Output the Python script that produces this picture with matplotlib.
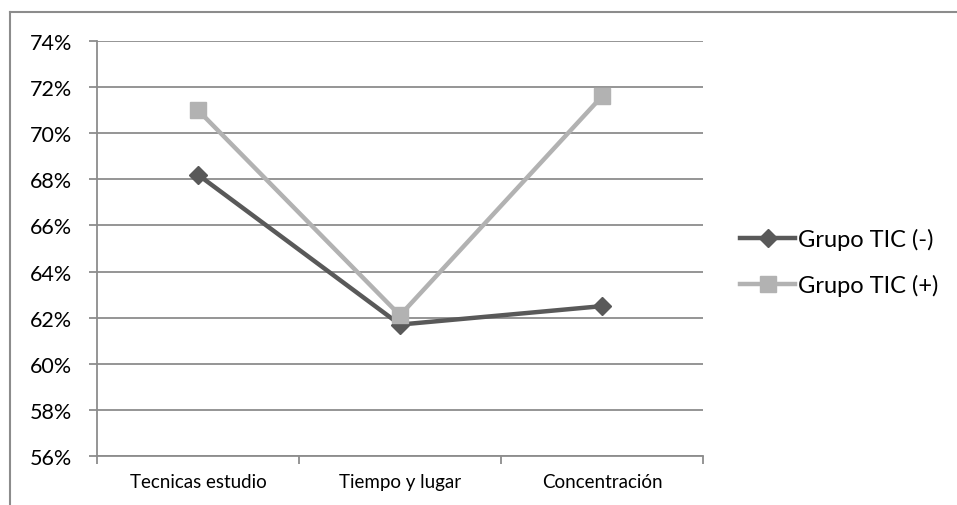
import numpy as np
import matplotlib
matplotlib.use("Agg")
from matplotlib import pyplot as plt
from matplotlib.lines import Line2D
from matplotlib.ticker import FuncFormatter

categories = ["Tecnicas estudio", "Tiempo y lugar", "Concentración"]
grupo_menos = [68.2, 61.7, 62.5]
grupo_mas = [71.0, 62.1, 71.6]
y_ticks = [56, 58, 60, 62, 64, 66, 68, 70, 72, 74]

plt.rcParams['font.family'] = ['Lato', 'DejaVu Sans']

fig = plt.figure(figsize=(9.57, 5.06), dpi=100)
ax = fig.add_axes([97 / 957, 1 - 457 / 506, (703 - 97) / 957, (457 - 42) / 506])

grid_col = '#8c8c8c'
x = np.arange(len(categories))
ax.plot(x, grupo_menos, color='#595959', lw=3.2, marker='D', ms=9,
        label='Grupo TIC (-)', zorder=3)
ax.plot(x, grupo_mas, color='#b2b2b2', lw=3.2, marker='s', ms=12,
        label='Grupo TIC (+)', zorder=3)

ax.set_xlim(-0.5, 2.5)
ax.set_ylim(56, 74)
ax.set_yticks(y_ticks)
ax.yaxis.set_major_formatter(FuncFormatter(lambda v, p: f'{v:.0f}%'))
ax.grid(axis='y', color=grid_col, lw=1.3)
ax.set_axisbelow(True)

ax.set_xticks(x)
ax.set_xticklabels(categories, fontsize=13.5)
ax.set_xticks([-0.5, 0.5, 1.5, 2.5], minor=True)
ax.tick_params(axis='x', which='major', length=0, pad=12)
ax.tick_params(axis='x', which='minor', length=6, width=1.3, color=grid_col)
ax.tick_params(axis='y', length=6, width=1.3, color=grid_col, labelsize=15.5, pad=12)

for s in ['top', 'right']:
    ax.spines[s].set_visible(False)
for s in ['left', 'bottom']:
    ax.spines[s].set_color(grid_col)
    ax.spines[s].set_linewidth(1.3)

ax.legend(loc='center left', bbox_to_anchor=(1.061, 0.467), frameon=False,
          fontsize=17, handlelength=2.35, handletextpad=0.1, labelspacing=1.0,
          borderpad=0, borderaxespad=0)

# outer chart border (cropped at right and bottom)
fig.add_artist(Line2D([10 / 957, 10 / 957], [0, 1 - 13 / 506],
                      transform=fig.transFigure, color=grid_col, lw=1.5))
fig.add_artist(Line2D([10 / 957, 1], [1 - 13 / 506, 1 - 13 / 506],
                      transform=fig.transFigure, color=grid_col, lw=1.5))

fig.savefig('out.png', dpi=100)
